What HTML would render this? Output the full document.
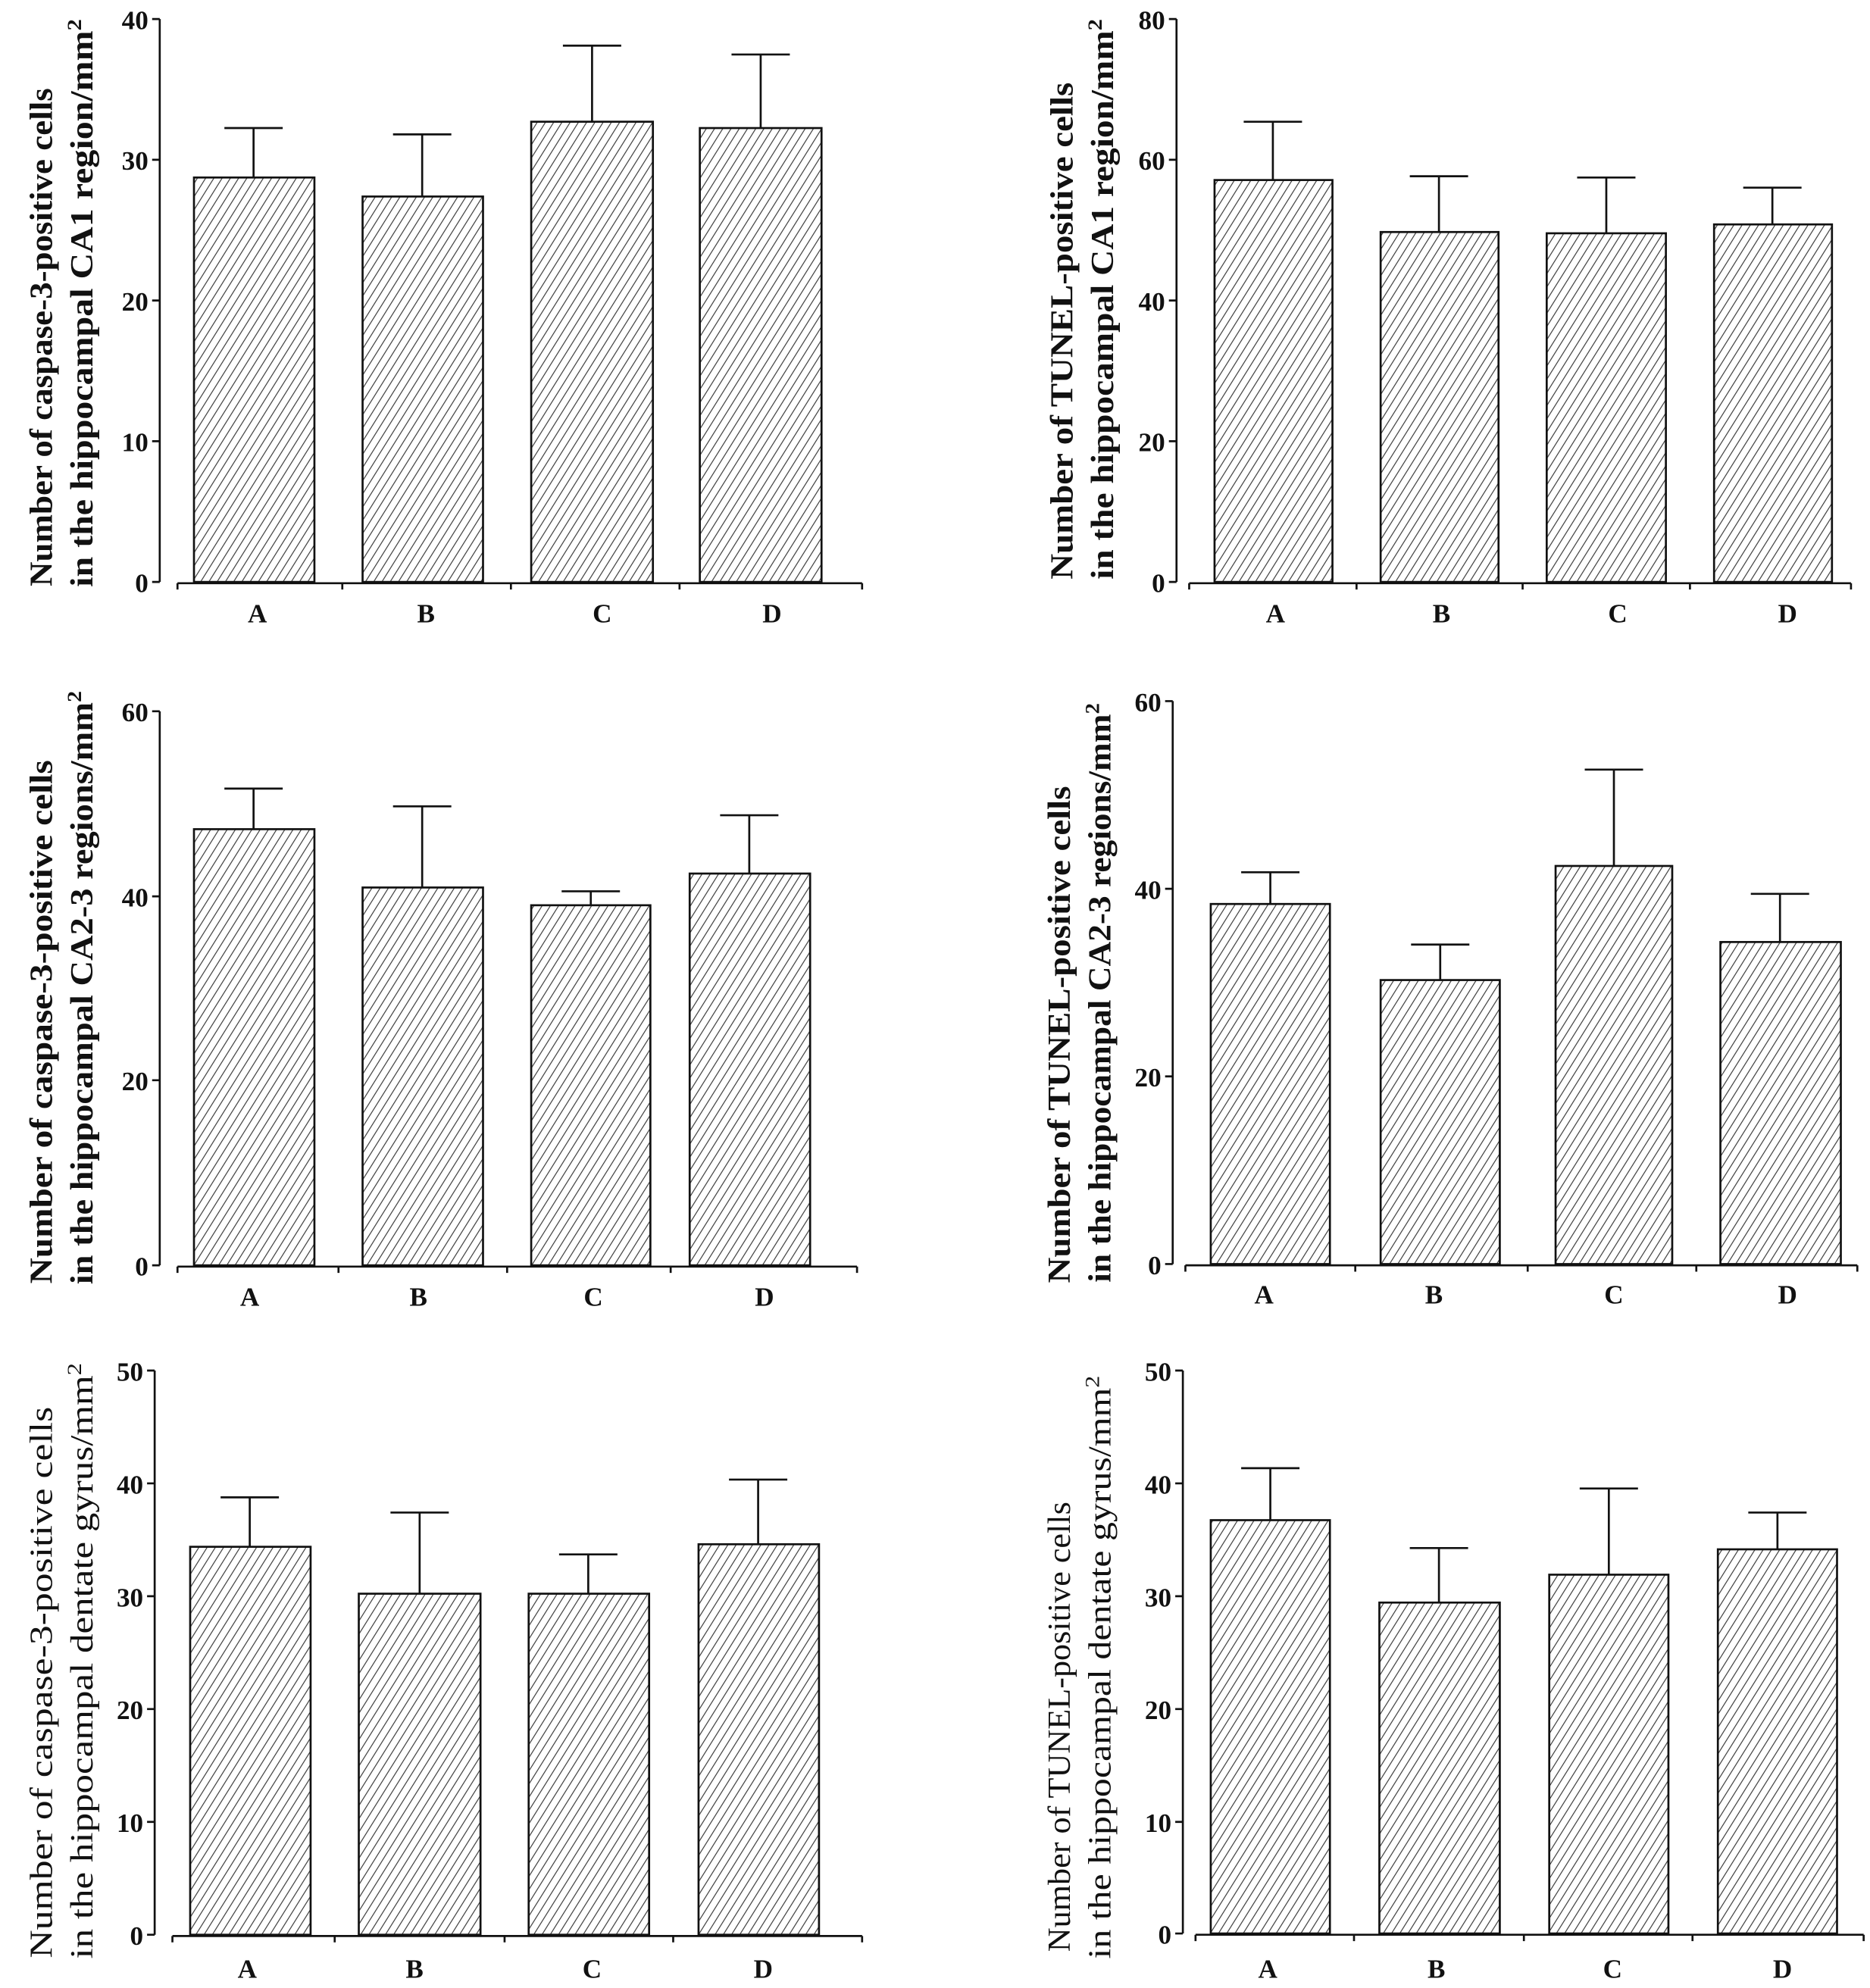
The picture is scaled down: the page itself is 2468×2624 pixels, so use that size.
<!DOCTYPE html>
<html><head><meta charset="utf-8"><style>
html,body{margin:0;padding:0;background:#fff}
svg{display:block}
text{font-family:"Liberation Serif",serif;fill:#111}
.t{font-size:21px;text-anchor:end;font-weight:bold}
.c{font-size:21px;text-anchor:middle;font-weight:bold}
.y{font-size:25px;text-anchor:middle;font-weight:bold}
.yn{font-size:25px;text-anchor:middle}
</style></head><body>
<svg width="2468" height="2624" viewBox="0 0 1475 1568" preserveAspectRatio="none" xmlns="http://www.w3.org/2000/svg">
<defs>
<pattern id="h" patternUnits="userSpaceOnUse" width="6.5" height="8" patternTransform="skewX(-32)">
<rect width="6.5" height="8" fill="#fff"/>
<line x1="3" y1="0" x2="3" y2="8" stroke="#333" stroke-width="0.8"/>
</pattern>
</defs>
<g stroke="#111" stroke-width="1.6" fill="none">
<!-- TL -->
<path d="M126 15V459M120 15H126M120 126H126M120 237H126M120 348H126M120 459H126M140 460H680M140 460V465M270 460V465M403 460V465M536 460V465M680 460V465"/>
<rect x="153" y="140" width="95" height="319" fill="url(#h)"/>
<rect x="286" y="155" width="95" height="304" fill="url(#h)"/>
<rect x="419" y="96" width="96" height="363" fill="url(#h)"/>
<rect x="552" y="101" width="96" height="358" fill="url(#h)"/>
<path d="M200 140V101M177 101H223M333 155V106M310 106H356M467 96V36M444 36H490M600 101V43M577 43H623"/>
<!-- TR -->
<path d="M928 15V459M922 15H928M922 126H928M922 237H928M922 348H928M922 459H928M938 460H1460M938 460V465M1070 460V465M1201 460V465M1333 460V465M1460 460V465"/>
<rect x="958" y="142" width="93" height="317" fill="url(#h)"/>
<rect x="1089" y="183" width="93" height="276" fill="url(#h)"/>
<rect x="1220" y="184" width="94" height="275" fill="url(#h)"/>
<rect x="1352" y="177" width="93" height="282" fill="url(#h)"/>
<path d="M1004 142V96M981 96H1027M1135 183V139M1112 139H1158M1267 184V140M1244 140H1290M1398 177V148M1375 148H1421"/>
<!-- ML -->
<path d="M126 561V998M120 561H126M120 707H126M120 852H126M120 998H126M140 999H676M140 999V1004M267 999V1004M400 999V1004M529 999V1004M676 999V1004"/>
<rect x="153" y="654" width="95" height="344" fill="url(#h)"/>
<rect x="286" y="700" width="95" height="298" fill="url(#h)"/>
<rect x="419" y="714" width="94" height="284" fill="url(#h)"/>
<rect x="544" y="689" width="95" height="309" fill="url(#h)"/>
<path d="M200 654V622M177 622H223M333 700V636M310 636H356M466 714V703M443 703H489M591 689V643M568 643H614"/>
<!-- MR -->
<path d="M925 553V997M919 553H925M919 701H925M919 849H925M919 997H925M935 998H1465M935 998V1003M1069 998V1003M1205 998V1003M1338 998V1003M1465 998V1003"/>
<rect x="955" y="713" width="94" height="284" fill="url(#h)"/>
<rect x="1089" y="773" width="94" height="224" fill="url(#h)"/>
<rect x="1227" y="683" width="92" height="314" fill="url(#h)"/>
<rect x="1357" y="743" width="95" height="254" fill="url(#h)"/>
<path d="M1002 713V688M979 688H1025M1136 773V745M1113 745H1159M1273 683V607M1250 607H1296M1404 743V705M1381 705H1427"/>
<!-- BL -->
<path d="M122 1081V1526M116 1081H122M116 1170H122M116 1259H122M116 1348H122M116 1437H122M116 1526H122M136 1527H680M136 1527V1532M264 1527V1532M398 1527V1532M531 1527V1532M680 1527V1532"/>
<rect x="150" y="1220" width="95" height="306" fill="url(#h)"/>
<rect x="283" y="1257" width="96" height="269" fill="url(#h)"/>
<rect x="417" y="1257" width="95" height="269" fill="url(#h)"/>
<rect x="551" y="1218" width="95" height="308" fill="url(#h)"/>
<path d="M197 1220V1181M174 1181H220M331 1257V1193M308 1193H354M464 1257V1226M441 1226H487M598 1218V1167M575 1167H621"/>
<!-- BR -->
<path d="M933 1081V1525M927 1081H933M927 1170H933M927 1259H933M927 1348H933M927 1437H933M927 1525H933M943 1526H1470M943 1526V1531M1068 1526V1531M1202 1526V1531M1335 1526V1531M1470 1526V1531"/>
<rect x="955" y="1199" width="94" height="326" fill="url(#h)"/>
<rect x="1088" y="1264" width="95" height="261" fill="url(#h)"/>
<rect x="1222" y="1242" width="94" height="283" fill="url(#h)"/>
<rect x="1355" y="1222" width="94" height="303" fill="url(#h)"/>
<path d="M1002 1199V1158M979 1158H1025M1135 1264V1221M1112 1221H1158M1269 1242V1174M1246 1174H1292M1402 1222V1193M1379 1193H1425"/>
</g>
<!-- tick labels -->
<text class="t" x="117" y="23">40</text><text class="t" x="117" y="134">30</text><text class="t" x="117" y="245">20</text><text class="t" x="117" y="356">10</text><text class="t" x="117" y="467">0</text>
<text class="t" x="919" y="23">80</text><text class="t" x="919" y="134">60</text><text class="t" x="919" y="245">40</text><text class="t" x="919" y="356">20</text><text class="t" x="919" y="467">0</text>
<text class="t" x="117" y="569">60</text><text class="t" x="117" y="715">40</text><text class="t" x="117" y="860">20</text><text class="t" x="117" y="1006">0</text>
<text class="t" x="916" y="561">60</text><text class="t" x="916" y="709">40</text><text class="t" x="916" y="857">20</text><text class="t" x="916" y="1005">0</text>
<text class="t" x="113" y="1089">50</text><text class="t" x="113" y="1178">40</text><text class="t" x="113" y="1267">30</text><text class="t" x="113" y="1356">20</text><text class="t" x="113" y="1445">10</text><text class="t" x="113" y="1534">0</text>
<text class="t" x="924" y="1089">50</text><text class="t" x="924" y="1178">40</text><text class="t" x="924" y="1267">30</text><text class="t" x="924" y="1356">20</text><text class="t" x="924" y="1445">10</text><text class="t" x="924" y="1533">0</text>
<!-- category labels -->
<text class="c" x="203" y="491">A</text><text class="c" x="336" y="491">B</text><text class="c" x="475" y="491">C</text><text class="c" x="609" y="491">D</text>
<text class="c" x="1006" y="491">A</text><text class="c" x="1137" y="491">B</text><text class="c" x="1276" y="491">C</text><text class="c" x="1410" y="491">D</text>
<text class="c" x="197" y="1030">A</text><text class="c" x="330" y="1030">B</text><text class="c" x="468" y="1030">C</text><text class="c" x="603" y="1030">D</text>
<text class="c" x="997" y="1028">A</text><text class="c" x="1131" y="1028">B</text><text class="c" x="1273" y="1028">C</text><text class="c" x="1410" y="1028">D</text>
<text class="c" x="195" y="1560">A</text><text class="c" x="327" y="1560">B</text><text class="c" x="467" y="1560">C</text><text class="c" x="602" y="1560">D</text>
<text class="c" x="1000" y="1560">A</text><text class="c" x="1133" y="1560">B</text><text class="c" x="1272" y="1560">C</text><text class="c" x="1406" y="1560">D</text>
<!-- y labels -->
<text class="y" transform="translate(41,266) rotate(-90)" textLength="393" lengthAdjust="spacingAndGlyphs">Number of caspase-3-positive cells</text>
<text class="y" transform="translate(73,239) rotate(-90)" textLength="448" lengthAdjust="spacingAndGlyphs">in the hippocampal CA1 region/mm<tspan font-size="16" dy="-9">2</tspan></text>
<text class="y" transform="translate(846,261) rotate(-90)" textLength="392" lengthAdjust="spacingAndGlyphs">Number of TUNEL-positive cells</text>
<text class="y" transform="translate(878,236) rotate(-90)" textLength="442" lengthAdjust="spacingAndGlyphs">in the hippocampal CA1 region/mm<tspan font-size="16" dy="-9">2</tspan></text>
<text class="y" transform="translate(41,806) rotate(-90)" textLength="413" lengthAdjust="spacingAndGlyphs">Number of caspase-3-positive cells</text>
<text class="y" transform="translate(73,779) rotate(-90)" textLength="468" lengthAdjust="spacingAndGlyphs">in the hippocampal CA2-3 regions/mm<tspan font-size="16" dy="-9">2</tspan></text>
<text class="y" transform="translate(844,816) rotate(-90)" textLength="392" lengthAdjust="spacingAndGlyphs">Number of TUNEL-positive cells</text>
<text class="y" transform="translate(876,783) rotate(-90)" textLength="457" lengthAdjust="spacingAndGlyphs">in the hippocampal CA2-3 regions/mm<tspan font-size="16" dy="-9">2</tspan></text>
<text class="yn" transform="translate(41,1327) rotate(-90)" textLength="435" lengthAdjust="spacingAndGlyphs">Number of caspase-3-positive cells</text>
<text class="yn" transform="translate(73,1310) rotate(-90)" textLength="470" lengthAdjust="spacingAndGlyphs">in the hippocampal dentate gyrus/mm<tspan font-size="16" dy="-9">2</tspan></text>
<text class="yn" transform="translate(844,1362) rotate(-90)" textLength="355" lengthAdjust="spacingAndGlyphs">Number of TUNEL-positive cells</text>
<text class="yn" transform="translate(876,1315) rotate(-90)" textLength="460" lengthAdjust="spacingAndGlyphs">in the hippocampal dentate gyrus/mm<tspan font-size="16" dy="-9">2</tspan></text>
</svg>
</body></html>
